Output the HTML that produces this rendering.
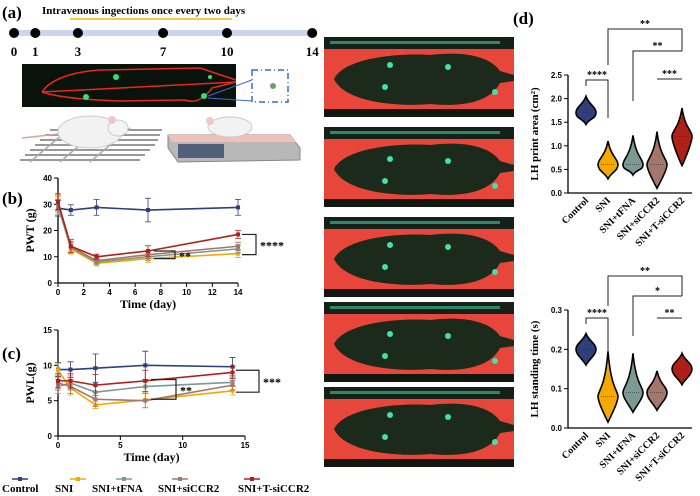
<!DOCTYPE html>
<html><head><meta charset="utf-8"><style>
body{margin:0;background:#fff}
svg{display:block;font-family:"Liberation Serif",serif}
.ax{font-family:"Liberation Sans",sans-serif;font-weight:bold;font-size:8px}
</style></head><body>
<svg id="fig" width="700" height="496" viewBox="0 0 700 496" xmlns="http://www.w3.org/2000/svg">
<g id="pa">
<text x="2" y="18" font-size="17" font-weight="bold">(a)</text>
<text x="42" y="14" font-size="11" font-weight="bold">Intravenous ingections once every two days</text>
<line x1="70" y1="19" x2="232" y2="19" stroke="#f5b800" stroke-width="1.5"/>
<rect x="14" y="30" width="298" height="6" fill="#c9d6ee"/>
<g id="tl"></g>
<rect x="22" y="64" width="214" height="43" fill="#0a120c"/>
<path d="M42,92 C50,80 70,72 100,70 L200,68 L212,72 L236,80 M236,82 L212,88 C205,98 195,104 185,100 L120,101 C90,100 60,98 42,92Z" fill="none" stroke="#e8281c" stroke-width="1.5"/>
<circle cx="116" cy="77" r="3" fill="#2fe07a"/>
<circle cx="86" cy="97" r="3" fill="#2fe07a"/>
<circle cx="204" cy="96" r="3" fill="#2fe07a"/>
<circle cx="210" cy="77" r="2" fill="#2fe07a"/>
<line x1="208" y1="96" x2="252" y2="80" stroke="#3a6ad0"/>
<line x1="208" y1="98" x2="252" y2="101" stroke="#3a6ad0"/>
<rect x="252" y="70" width="36" height="32" fill="none" stroke="#3a6ad0" stroke-width="1.5" stroke-dasharray="6,3,1,3"/>
<circle cx="273" cy="86" r="3" fill="#6aa060"/>
<g>
<path d="M20,160 L140,160 M25,155 L145,155 M30,150 L150,150 M35,145 L155,145 M40,140 L158,140 M45,135 L160,135 M50,130 L162,130" stroke="#999" stroke-width="2"/>
<path d="M30,162 L70,128 M60,162 L100,128 M90,162 L130,128" stroke="#aaa" stroke-width="1.5"/>
<ellipse cx="90" cy="132" rx="32" ry="16" fill="#f2f2f2" stroke="#ccc"/>
<ellipse cx="118" cy="128" rx="10" ry="8" fill="#f4f4f4" stroke="#ccc"/>
<circle cx="112" cy="120" r="4" fill="#f0c8c8"/>
<path d="M58,134 L22,138" stroke="#e0a0a0" stroke-width="1.5"/>
</g>
<g>
<path d="M168,135 L290,135 L300,148 L300,160 L178,162 L168,148Z" fill="#b8b8b8" stroke="#888"/>
<path d="M168,135 L290,135 L296,142 L172,142Z" fill="#f2c0b8"/>
<rect x="178" y="144" width="46" height="14" fill="#50607a"/>
<ellipse cx="230" cy="127" rx="22" ry="10" fill="#f2f2f2" stroke="#ccc"/>
<circle cx="210" cy="121" r="4" fill="#f0c8c8"/>
</g>
</g>
<text x="2" y="204" font-size="17" font-weight="bold">(b)</text>
<text x="2" y="359" font-size="17" font-weight="bold">(c)</text>
<g id="pb"></g>
<g id="pc"></g>
<g id="leg"></g>
<g id="photos"></g>
<text x="513" y="24" font-size="17" font-weight="bold">(d)</text>
<g id="v1"></g>
<g id="v2"></g>
</svg>
<script>
const NS="http://www.w3.org/2000/svg";
function mk(p,t,a,txt){const e=document.createElementNS(NS,t);for(const k in a)e.setAttribute(k,a[k]);if(txt!==undefined)e.textContent=txt;p.appendChild(e);return e;}
const groups=["Control","SNI","SNI+tFNA","SNI+siCCR2","SNI+T-siCCR2"];
const colors=["#2e3f7a","#f5a800","#7c9a94","#a5776a","#b0201a"];
const days=[0,1,3,7,14];
const pwt=[[28.5,27.8,28.8,27.8,28.8],[30,13,7.5,9.3,11.2],[29,13.5,8,10,13],[30.5,13.8,8.5,10.8,14],[31,14,10,12.2,18.5]];
const pwtErr=[[3,2,3,4.5,3],[3,2,1,1.5,1.5],[3,2,1,1.5,1.5],[3,2,1,1.5,1.5],[3,2.5,1,2,1.5]];
const pwl=[[9.4,9.4,9.6,10,9.8],[9.3,6.8,4.4,5.1,6.4],[7,7.5,6.2,7,7.6],[7.5,7,5.2,5,7.2],[7.8,7.8,7.2,7.8,9]];
const pwlErr=[[1,1.1,2,2,1.3],[1,1,0.5,1.1,0.6],[1,1,1,1,0.5],[1,1,1,1,0.7],[1,1,1.5,1.5,0.8]];
const pwtTicks=[0,10,20,30,40], pwtXTicks=[0,2,4,6,8,10,12,14];
const pwlTicks=[0,5,10,15], pwlXTicks=[0,5,10,15];
const tlDays=[0,1,3,7,10,14];
const tl=document.getElementById('tl');
tlDays.forEach(d=>{const x=14+d*21.3;
const c=mk(tl,'circle',{cx:x,cy:33,r:5,fill:'#000'});


const t=mk(tl,'text',{x:x,y:56,'text-anchor':'middle','font-size':13,'font-weight':'bold'},d);

});
function line(g,data,err,ticks,xticks,xmax,ymax,y0,y1,ylab,sig){
 const X=d=>58+d*(xmax===14?12.86:12.47), Y=v=>y0-(v/ymax)*(y0-y1);
 const xa=mk(g,'line',{x1:58,y1:y0,x2:X(xmax),y2:y0,stroke:'#000','stroke-width':1.3});
 
 const ya=mk(g,'line',{x1:58,y1:y0,x2:58,y2:y1,stroke:'#000','stroke-width':1.3});
 
 ticks.forEach(v=>{mk(g,'line',{x1:54,x2:58,y1:Y(v),y2:Y(v),stroke:'#000'});
  const t=mk(g,'text',{x:52,y:Y(v)+3,'text-anchor':'end',class:'ax'},v);
  });
 xticks.forEach(v=>{mk(g,'line',{x1:X(v),x2:X(v),y1:y0,y2:y0+4,stroke:'#000'});
  const t=mk(g,'text',{x:X(v),y:y0+12,'text-anchor':'middle',class:'ax'},v);
  });
 const xt=mk(g,'text',{x:X(xmax/2),y:y0+25,'text-anchor':'middle','font-size':12,'font-weight':'bold'},'Time (day)');
 
 const yt=mk(g,'text',{x:0,y:0,'text-anchor':'middle','font-size':12,'font-weight':'bold',transform:`translate(34,${(y0+y1)/2}) rotate(-90)`},ylab);
 
 data.forEach((s,i)=>{
  const pl=mk(g,'polyline',{points:s.map((v,j)=>X(days[j])+','+Y(v)).join(' '),fill:'none',stroke:colors[i],'stroke-width':1.6});
  
  s.forEach((v,j)=>{const x=X(days[j]),e=err[i][j];
   mk(g,'path',{d:`M${x},${Y(v-e)}V${Y(v+e)}M${x-3},${Y(v-e)}h6M${x-3},${Y(v+e)}h6`,stroke:colors[i],'stroke-width':0.8,fill:'none'});
   const m=mk(g,'rect',{x:x-2,y:Y(v)-2,width:4,height:4,fill:colors[i]});
   });
 });
 sig.forEach(s=>{const b=mk(g,'path',{d:`M${s[0]},${Y(s[1])}H${s[2]}V${Y(s[3])}H${s[0]}`,fill:'none',stroke:'#222','stroke-width':1.2});
  
  const t=mk(g,'text',{x:s[2]+4,y:(Y(s[1])+Y(s[3]))/2+5,'font-size':12,'font-weight':'bold'},s[4]);
  });
}
line(document.getElementById('pb'),pwt,pwtErr,pwtTicks,pwtXTicks,14,40,283,178,'PWT (g)',[[154,12.2,175,9.3,'**'],[242,18.5,256,10.8,'****']]);
line(document.getElementById('pc'),pwl,pwlErr,pwlTicks,pwlXTicks,15,15,436,330,'PWL(g)',[[151,8,176,5.2,'**'],[236,9.3,259,6.2,'***']]);
const leg=document.getElementById('leg');
const lx=[20,78,124,180,252], tx=[2,55,92,158,238];
groups.forEach((g,i)=>{mk(leg,'line',{x1:lx[i]-8,x2:lx[i]+8,y1:479,y2:479,stroke:colors[i],'stroke-width':1.5});
 mk(leg,'rect',{x:lx[i]-2,y:477,width:4,height:4,fill:colors[i]});
 const t=mk(leg,'text',{x:tx[i],y:492,'font-size':11,'font-weight':'bold'},g);
 });
const ph=document.getElementById('photos');
[37,127,217,302,387].forEach((y,k)=>{
 const g=mk(ph,'g',{});
 
 mk(g,'rect',{x:324,y:y,width:190,height:80,fill:'#e8463a'});
 mk(g,'rect',{x:324,y:y,width:190,height:12,fill:'#142018'});
 mk(g,'rect',{x:324,y:y+72,width:190,height:8,fill:'#101810'});
 mk(g,'rect',{x:330,y:y+4,width:170,height:3,fill:'#3ad0a0',opacity:0.6});
 mk(g,'path',{d:`M${334},${y+42} C345,${y+20} 400,${y+16} 430,${y+18} C470,${y+13} 492,${y+22} 500,${y+34} L514,${y+38} L514,${y+44} L500,${y+46} C490,${y+66} 460,${y+70} 430,${y+67} C400,${y+70} 345,${y+66} 334,${y+42}Z`,fill:'#1c2a1c'});
 [[390,28],[385,50],[448,30],[495,55]].forEach(p=>mk(g,'circle',{cx:p[0],cy:y+p[1]+(k%2)*4,r:3,fill:'#40e0b0'}));
});
const vCats=groups;
const v1Med=[1.7,0.6,0.6,0.6,1.2], v1Min=[1.45,0.3,0.38,0.1,0.58], v1Max=[2.05,1.1,1.22,1.3,1.8];
const v2Med=[0.2,0.08,0.09,0.09,0.15], v2Min=[0.16,0.015,0.04,0.045,0.11], v2Max=[0.24,0.195,0.19,0.145,0.19];
const v1Ticks=["0.0","0.5","1.0","1.5","2.0","2.5"], v2Ticks=["0.0","0.1","0.2","0.3"];
const vx=[586,608,633,657,682];
function violin(g,med,mn,mx,ticks,ymax,y0,y1,ylab,sig){
 const Y=v=>y0-(v/ymax)*(y0-y1);
 const ya=mk(g,'line',{x1:568,y1:y0,x2:568,y2:y1,stroke:'#000','stroke-width':1.3});
 
 const xa=mk(g,'line',{x1:568,y1:y0,x2:692,y2:y0,stroke:'#000','stroke-width':1.3});
 
 ticks.forEach(s=>{const v=parseFloat(s);mk(g,'line',{x1:564,x2:568,y1:Y(v),y2:Y(v),stroke:'#000'});
  const t=mk(g,'text',{x:562,y:Y(v)+3,'text-anchor':'end',class:'ax'},s);
  });
 const yt=mk(g,'text',{x:0,y:0,'text-anchor':'middle','font-size':11,'font-weight':'bold',transform:`translate(538,${(y0+y1)/2}) rotate(-90)`},ylab);
 
 vCats.forEach((c,i)=>{const x=vx[i],a=Y(mx[i]),b=Y(mn[i]),m=Y(med[i]),w=10;
  const p=mk(g,'path',{d:`M${x},${a} C${x+3},${m-8} ${x+w},${m-6} ${x+w},${m} C${x+w},${m+6} ${x+3},${b-6} ${x},${b} C${x-3},${b-6} ${x-w},${m+6} ${x-w},${m} C${x-w},${m-6} ${x-3},${m-8} ${x},${a}Z`,fill:colors[i],stroke:'#000','stroke-width':1.6});
  
  mk(g,'line',{x1:x-7,x2:x+7,y1:m,y2:m,stroke:'#333','stroke-dasharray':'1,1','stroke-width':0.6});
  const t=mk(g,'text',{x:0,y:0,'text-anchor':'end','font-size':10,'font-weight':'bold',transform:`translate(${x+3},${y0+8}) rotate(-45)`},c);
  });
 sig.forEach(s=>{const b=mk(g,'path',{d:`M${vx[s[0]]},${s[2]+(s[4]||0)}V${s[2]}H${vx[s[1]]}V${s[2]+(s[5]||0)}`,fill:'none',stroke:'#222'});
  
  const t=mk(g,'text',{x:(vx[s[0]]+vx[s[1]])/2,y:s[2]-2,'text-anchor':'middle','font-size':10,'font-weight':'bold'},s[3]);
  });
}
violin(document.getElementById('v1'),v1Med,v1Min,v1Max,v1Ticks,2.5,193,75,'LH print area (cm²)',[[0,1,80,'****',6,38],[1,4,29,'**',36,22],[2,4,51,'**',50,0],[3,4,79,'***',0,0]]);
violin(document.getElementById('v2'),v2Med,v2Min,v2Max,v2Ticks,0.3,428,310,'LH standing time (s)',[[0,1,318,'****',6,35],[1,4,276,'**',30,20],[2,4,296,'*',40,0],[3,4,318,'**',0,0]]);
</script>
</body></html>
